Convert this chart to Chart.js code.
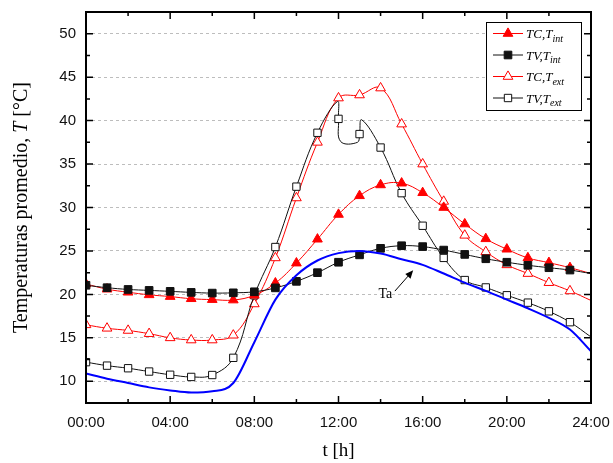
<!DOCTYPE html>
<html>
<head>
<meta charset="utf-8">
<script src="https://cdn.jsdelivr.net/npm/chart.js@4.4.1/dist/chart.umd.min.js"></script>
<style>
    html, body { margin: 0; padding: 0; background: #fff; }
    #wrap { width: 613px; height: 463px; position: relative; }
</style>
</head>
<body>
<div id="wrap"><canvas id="chart"></canvas></div>
<script>
// hourly readings, 00:00 .. 24:00
const hours = [0, 1, 2, 3, 4, 5, 6, 7, 8, 9, 10, 11, 12, 13, 14, 15, 16, 17, 18, 19, 20, 21, 22, 23, 24];

const tcInt = [21.2, 20.6, 20.25, 19.95, 19.75, 19.5, 19.4, 19.35, 19.9, 21.3, 23.6, 26.35, 29.2, 31.35, 32.6, 32.8, 31.7, 30.0, 28.1, 26.4, 25.2, 24.2, 23.65, 23.07, 22.4];
const tvInt = [21.05, 20.77, 20.57, 20.46, 20.35, 20.23, 20.15, 20.18, 20.3, 20.75, 21.5, 22.5, 23.7, 24.55, 25.3, 25.6, 25.5, 25.1, 24.6, 24.1, 23.7, 23.35, 23.07, 22.8, 22.4];
const tcExt = [16.5, 16.1, 15.85, 15.48, 15.0, 14.75, 14.75, 15.3, 18.9, 24.2, 31.1, 37.5, 42.6, 42.95, 43.75, 39.6, 35.0, 30.7, 26.8, 24.9, 23.4, 22.4, 21.35, 20.4, 19.3];

// TV,Text has a few extra samples around midday (no marker drawn on them)
const tvExtHours = [0, 1, 2, 3, 4, 5, 6, 7, 8, 9, 10, 11, 11.95, 12, 12.1, 12.9, 13, 13.1, 14, 15, 16, 17, 18, 19, 20, 21, 22, 23, 24];
const tvExt = [12.2, 11.8, 11.5, 11.12, 10.75, 10.5, 10.72, 12.7, 19.9, 25.45, 32.4, 38.6, 42.2, 40.2, 37.6, 37.5, 38.45, 40.1, 36.9, 31.65, 27.9, 24.2, 21.65, 20.8, 19.9, 19.05, 18.05, 16.8, 15.1];

// ambient temperature
const ta = [10.9, 10.3, 9.8, 9.3, 8.95, 8.7, 8.85, 9.8, 14.5, 19.4, 22.2, 23.9, 24.75, 25.0, 24.7, 24.05, 23.4, 22.4, 21.35, 20.4, 19.4, 18.4, 17.3, 15.95, 13.45];

const xTickLabels = ['00:00', '04:00', '08:00', '12:00', '16:00', '20:00', '24:00'];
const yTickLabels = ['10', '15', '20', '25', '30', '35', '40', '45', '50'];

const legendLabels = [
    ['TC,T', 'int'],
    ['TV,T', 'int'],
    ['TC,T', 'ext'],
    ['TV,T', 'ext'],
];

const red = '#ff0000';
const black = '#111111';
const blue = '#0000ff';

const toPoints = (xs, ys) => ys.map((v, i) => ({x: xs[i], y: v}));

// markers only sit on the whole hours, not on 24:00
const markerRadius = (r) => (ctx) => {
    if (!ctx.raw) return r;
    return Number.isInteger(ctx.raw.x) && ctx.raw.x < 24 ? r : 0;
};

const series = [
    {key: 'tcInt', style: 'triangle', color: red, fill: red, radius: 5.6},
    {key: 'tvInt', style: 'rect', color: black, fill: black, radius: 5.4},
    {key: 'tcExt', style: 'triangle', color: red, fill: '#ffffff', radius: 5.6},
    {key: 'tvExt', style: 'rect', color: black, fill: '#ffffff', radius: 5.2},
];

const lineDataset = (s, data, order) => ({
    data: data,
    borderColor: s.color,
    borderWidth: 1,
    pointStyle: s.style,
    pointRadius: markerRadius(s.radius),
    pointBackgroundColor: s.fill,
    pointBorderColor: s.color,
    pointBorderWidth: 1,
    tension: 0.4,
    order: order,
});

// inward ticks on all four sides plus the frame
const framePlugin = {
    id: 'frame',
    afterDatasetsDraw(chart) {
        const {ctx, chartArea: a, scales: {x, y}} = chart;
        ctx.save();
        ctx.strokeStyle = '#000';
        ctx.lineWidth = 1.5;
        ctx.beginPath();
        x.ticks.forEach((t) => {
            const px = x.getPixelForValue(t.value);
            const len = t.value % 4 === 0 ? 7 : 4;
            ctx.moveTo(px, a.bottom);
            ctx.lineTo(px, a.bottom - len);
            ctx.moveTo(px, a.top);
            ctx.lineTo(px, a.top + len);
        });
        y.ticks.forEach((t) => {
            const py = y.getPixelForValue(t.value);
            const len = t.value % 5 === 0 ? 7 : 4;
            ctx.moveTo(a.left, py);
            ctx.lineTo(a.left + len, py);
            ctx.moveTo(a.right, py);
            ctx.lineTo(a.right - len, py);
        });
        ctx.stroke();
        ctx.lineWidth = 2;
        ctx.strokeRect(a.left, a.top, a.right - a.left, a.bottom - a.top);
        ctx.restore();
    },
};

// axis titles, legend box and the Ta pointer
const decorPlugin = {
    id: 'decor',
    afterDraw(chart) {
        const {ctx, chartArea: a, scales: {x, y}} = chart;
        const serif = '"Liberation Serif", "Times New Roman", serif';
        ctx.save();
        ctx.fillStyle = '#000';

        // y title with italic T
        const parts = [
            ['Temperaturas promedio, ', 'normal'],
            ['T', 'italic'],
            [' [°C]', 'normal'],
        ];
        const size = 20;
        let total = 0;
        parts.forEach((p) => {
            ctx.font = p[1] + ' ' + size + 'px ' + serif;
            total += ctx.measureText(p[0]).width;
        });
        ctx.translate(27, (a.top + a.bottom) / 2);
        ctx.rotate(-Math.PI / 2);
        ctx.textBaseline = 'alphabetic';
        ctx.textAlign = 'left';
        let cx = -total / 2;
        parts.forEach((p) => {
            ctx.font = p[1] + ' ' + size + 'px ' + serif;
            ctx.fillText(p[0], cx, 0);
            cx += ctx.measureText(p[0]).width;
        });
        ctx.setTransform(1, 0, 0, 1, 0, 0);

        // x title
        ctx.font = '19px ' + serif;
        ctx.textAlign = 'center';
        ctx.fillText('t [h]', (a.left + a.right) / 2, 456);

        // Ta label and arrow
        ctx.font = '14px ' + serif;
        ctx.fillText('Ta', x.getPixelForValue(14.23), y.getPixelForValue(20.15) + 5);
        const x0 = x.getPixelForValue(14.68), y0 = y.getPixelForValue(20.38);
        const x1 = x.getPixelForValue(15.55), y1 = y.getPixelForValue(22.77);
        const ang = Math.atan2(y1 - y0, x1 - x0);
        ctx.strokeStyle = '#000';
        ctx.lineWidth = 1;
        ctx.beginPath();
        ctx.moveTo(x0, y0);
        ctx.lineTo(x1 - 5 * Math.cos(ang), y1 - 5 * Math.sin(ang));
        ctx.stroke();
        ctx.beginPath();
        ctx.moveTo(x1, y1);
        ctx.lineTo(x1 - 8 * Math.cos(ang) + 3.5 * Math.sin(ang), y1 - 8 * Math.sin(ang) - 3.5 * Math.cos(ang));
        ctx.lineTo(x1 - 8 * Math.cos(ang) - 3.5 * Math.sin(ang), y1 - 8 * Math.sin(ang) + 3.5 * Math.cos(ang));
        ctx.closePath();
        ctx.fill();

        // legend
        const bx = 486.5, by = 22.5, bw = 95, bh = 88;
        ctx.fillStyle = '#fff';
        ctx.fillRect(bx, by, bw, bh);
        ctx.strokeStyle = '#000';
        ctx.lineWidth = 1;
        ctx.strokeRect(bx, by, bw, bh);
        series.forEach((s, i) => {
            const ly = 33.5 + i * 21.5;
            ctx.strokeStyle = s.color;
            ctx.beginPath();
            ctx.moveTo(493, ly);
            ctx.lineTo(523, ly);
            ctx.stroke();
            ctx.fillStyle = s.fill;
            Chart.helpers.drawPoint(ctx, {pointStyle: s.style, radius: s.radius, rotation: 0, borderWidth: 1}, 508, ly);
            ctx.fillStyle = '#000';
            ctx.textAlign = 'left';
            ctx.font = 'italic 13px ' + serif;
            ctx.fillText(legendLabels[i][0], 526, ly + 4.5);
            const w = ctx.measureText(legendLabels[i][0]).width;
            ctx.font = 'italic 10px ' + serif;
            ctx.fillText(legendLabels[i][1], 526 + w, ly + 8);
        });
        ctx.restore();
    },
};

const ctx = document.getElementById('chart').getContext('2d');

new Chart(ctx, {
    type: 'line',
    data: {
        datasets: [
            {
                data: toPoints(hours, ta),
                borderColor: blue,
                borderWidth: 2,
                pointRadius: 0,
                cubicInterpolationMode: 'monotone',
                order: 0,
            },
            lineDataset(series[1], toPoints(hours, tvInt), 1),
            lineDataset(series[0], toPoints(hours, tcInt), 2),
            lineDataset(series[3], toPoints(tvExtHours, tvExt), 3),
            lineDataset(series[2], toPoints(hours, tcExt), 4),
        ],
    },
    options: {
        responsive: true,
        maintainAspectRatio: false,
        animation: false,
        events: [],
        layout: {
            padding: {top: 12, right: 22, left: 0, bottom: 0},
        },
        scales: {
            x: {
                type: 'linear',
                min: 0,
                max: 24,
                afterFit: (scale) => {
                    scale.height = 60;
                    scale.paddingLeft = 0;
                    scale.paddingRight = 0;
                },
                border: {display: false},
                grid: {display: false},
                ticks: {
                    stepSize: 2,
                    autoSkip: false,
                    maxRotation: 0,
                    padding: 3,
                    color: '#111',
                    font: {family: '"Liberation Sans", Arial, sans-serif', size: 15},
                    callback: (v) => (v % 4 === 0 ? xTickLabels[v / 4] : ''),
                },
            },
            y: {
                min: 7.5,
                max: 52.5,
                afterFit: (scale) => {
                    scale.width = 86;
                    scale.paddingTop = 0;
                    scale.paddingBottom = 0;
                },
                border: {display: false, dash: [3, 3]},
                grid: {
                    drawTicks: false,
                    lineWidth: 1,
                    color: (c) => (c.tick && c.tick.value % 5 === 0 ? '#bdbdbd' : 'rgba(0,0,0,0)'),
                },
                ticks: {
                    stepSize: 2.5,
                    autoSkip: false,
                    padding: 10,
                    color: '#111',
                    font: {family: '"Liberation Sans", Arial, sans-serif', size: 15},
                    callback: (v) => (v % 5 === 0 ? yTickLabels[(v - 10) / 5] : ''),
                },
            },
        },
        plugins: {
            legend: {display: false},
            tooltip: {enabled: false},
        },
    },
    plugins: [framePlugin, decorPlugin],
});
</script>
</body>
</html>
